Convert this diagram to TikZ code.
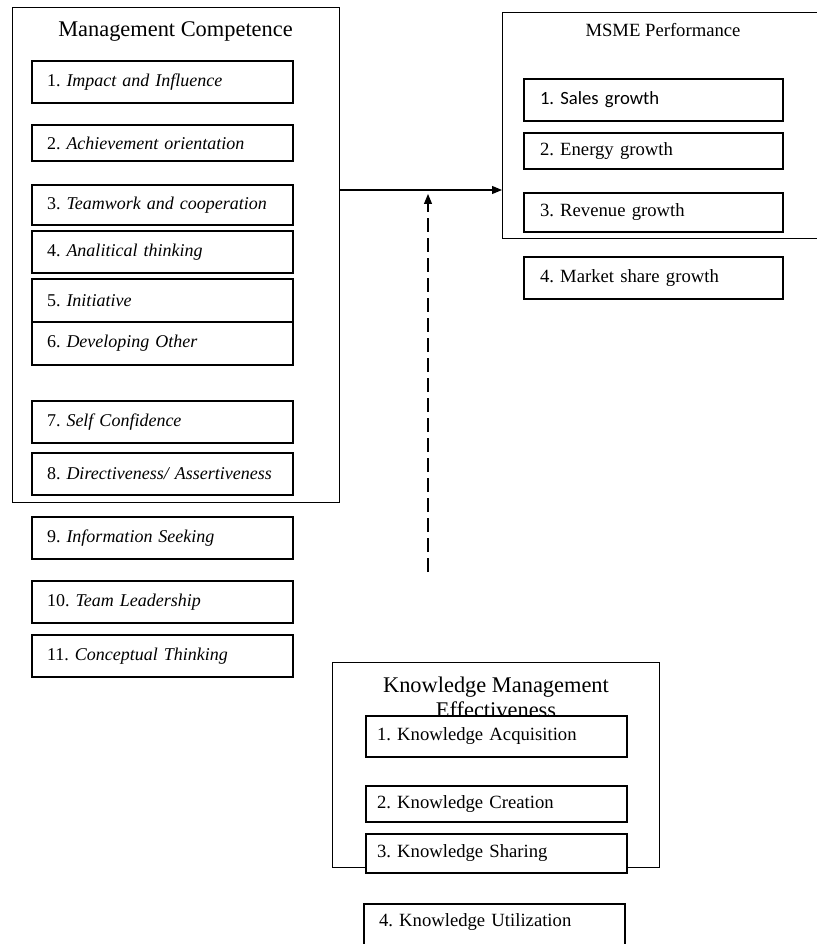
\documentclass[tikz,border=0pt]{standalone}
\usepackage{fontspec}
\setmainfont{Liberation Serif}
\newfontfamily\calibrifont{Carlito}
\usetikzlibrary{arrows.meta, positioning}

\begin{document}
\frenchspacing
\begin{tikzpicture}[
    x=0.75pt, y=-0.75pt,
    node distance=0pt,
    frame/.style={draw, line width=0.75pt, inner sep=0pt, outer sep=0pt},
    title/.style={font=\fontsize{16.8}{19}\selectfont, align=center},
    item/.style={draw, fill=white, line width=0.9pt, outer sep=0pt, minimum height=31.5pt, inner xsep=11.25pt, text width=173.25pt, align=left, font=\fontsize{13.5}{16}\selectfont},
    perf/.style={item, inner xsep=12pt, text width=170.25pt, font=\fontsize{14}{16.8}\selectfont},
    know/.style={item, inner xsep=8.25pt, text width=179.25pt, font=\fontsize{14}{16.8}\selectfont},
    arrow/.style={-{Triangle[length=7.5pt,width=6pt]}, line width=0.8pt},
    dasharrow/.style={arrow, dash pattern=on 10.5pt off 4.5pt}
  ]
    \useasboundingbox (0,0) rectangle (816,944);

    % Management competence
    \node[frame, minimum width=245.25pt, minimum height=370.5pt] (mc) at (175.5,255) {};
    \node[title] (mctitle) at (175.5,32) {Management Competence};
    \node[item] (mc1) at (162.5,82) {1. \textit{Impact and Influence}};
    \node[item, minimum height=27pt, below=16.5pt of mc1] (mc2) {2. \textit{Achievement orientation}};
    \node[item, minimum height=30pt, below=18pt of mc2] (mc3) {3. \textit{Teamwork and cooperation}};
    \node[item, below=4.5pt of mc3] (mc4) {4. \textit{Analitical thinking}};
    \node[item, minimum height=32.25pt, below=4.5pt of mc4] (mc5) {5. \textit{Initiative}};
    \node[item, minimum height=32.25pt, below=0pt of mc5] (mc6) {6. \textit{Developing Other}};
    \node[item, below=27pt of mc6] (mc7) {7. \textit{Self Confidence}};
    \node[item, below=7.5pt of mc7] (mc8) {8. \textit{Directiveness/ Assertiveness}};
    \node[item, below=16.5pt of mc8] (mc9) {9. \textit{Information Seeking}};
    \node[item, below=16.5pt of mc9] (mc10) {10. \textit{Team Leadership}};
    \node[item, below=9pt of mc10] (mc11) {11. \textit{Conceptual Thinking}};

    % MSME performance
    \node[frame, minimum width=246pt, minimum height=169.5pt] (msme) at (666,126) {};
    \node[font=\fontsize{14}{16.8}\selectfont] (msmetitle) at (663,30) {MSME Performance};
    \node[perf] (perf1) at (653.5,100) {{\calibrifont 1. Sales growth}};
    \node[perf, minimum height=27pt, below=9pt of perf1] (perf2) {2. Energy growth};
    \node[perf, minimum height=29.25pt, below=18pt of perf2] (perf3) {3. Revenue growth};
    \node[perf, below=18.75pt of perf3] (perf4) {4. Market share growth};

    % Knowledge management effectiveness
    \node[frame, minimum width=245.25pt, minimum height=153.75pt] (kme) at (495.5,764.5) {};
    \node[title] (kmetitle) at (496,697.5) {Knowledge Management\\Effectiveness};
    \node[know, minimum height=30.75pt] (know1) at (496.5,736.5) {1. Knowledge Acquisition};
    \node[know, minimum height=27pt, below=21.75pt of know1] (know2) {2. Knowledge Creation};
    \node[know, minimum height=29.25pt, below=9pt of know2] (know3) {3. Knowledge Sharing};
    \node[know, inner xsep=11.25pt, text width=173.25pt, minimum height=34.5pt, text depth=10pt, below=23.25pt of know3, xshift=-1.5pt] (know4) {4. Knowledge Utilization};

    % Arrows
    \coordinate (cross) at (428,190);
    \coordinate (kmtail) at (428,572);
    \coordinate (kmhead) at (428,194);
    \draw[arrow] (mc.east |- cross) -- (msme.west |- cross);
    \draw[dasharrow] (kmtail) -- (kmhead);
  \end{tikzpicture}
\end{document}
